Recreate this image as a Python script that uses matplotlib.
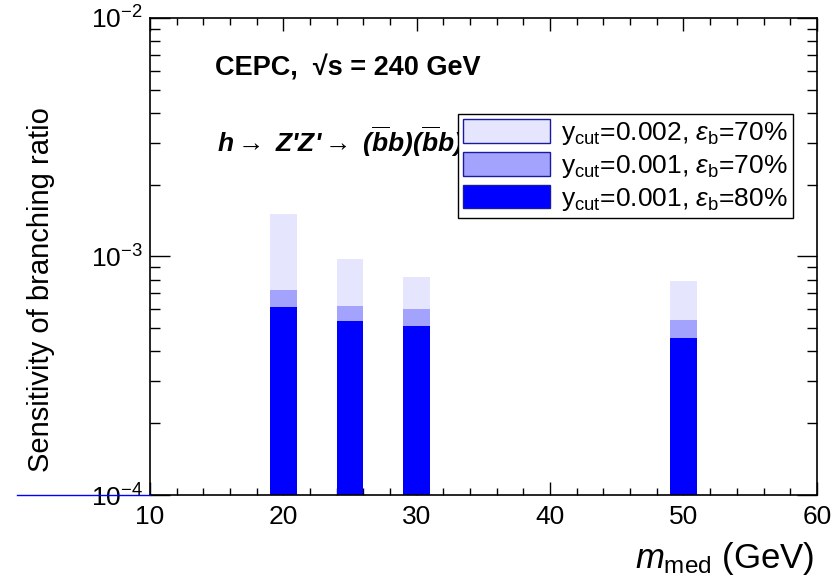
import matplotlib
matplotlib.use("Agg")
import matplotlib.pyplot as plt
from matplotlib.patches import Patch
from matplotlib.ticker import MultipleLocator, LogLocator, NullFormatter

plt.rcParams["font.family"] = ["Liberation Sans", "DejaVu Sans"]
plt.rcParams["mathtext.fontset"] = "custom"
plt.rcParams["mathtext.rm"] = "Liberation Sans"
plt.rcParams["mathtext.it"] = "Liberation Sans:italic"
plt.rcParams["mathtext.bf"] = "Liberation Sans:bold:italic"

# mediator masses (GeV) and sensitivities for the three selections
m_med = [20, 25, 30, 50]
br_y002_e70 = [1.51e-3, 9.76e-4, 8.2e-4, 7.89e-4]
br_y001_e70 = [7.24e-4, 6.2e-4, 6.03e-4, 5.42e-4]
br_y001_e80 = [6.14e-4, 5.37e-4, 5.11e-4, 4.55e-4]
labels = [r"y$_{\rm cut}$=0.002, $\varepsilon_{\rm b}$=70%",
          r"y$_{\rm cut}$=0.001, $\varepsilon_{\rm b}$=70%",
          r"y$_{\rm cut}$=0.001, $\varepsilon_{\rm b}$=80%"]
colors = ["#e5e5fd", "#a3a3fd", "#0000ff"]

ymin, ymax = 1e-4, 1e-2

fig = plt.figure(figsize=(8.31, 5.85), dpi=100)
ax = fig.add_axes([0.1805, 0.1538, 0.8025, 0.8155])

for vals, c in zip([br_y002_e70, br_y001_e70, br_y001_e80], colors):
    ax.bar(m_med, [v - ymin for v in vals], width=2, bottom=ymin, color=c,
           edgecolor="none", zorder=2)

ax.set_yscale("log")
ax.set_xlim(10, 60)
ax.set_ylim(ymin, ymax)

# stray baseline that leaks left of the frame in the original
ax.plot([-0.2, 0], [ymin, ymin], color="#0000ff", lw=1, clip_on=False,
        transform=ax.get_yaxis_transform(), zorder=5)

ax.xaxis.set_major_locator(MultipleLocator(10))
ax.xaxis.set_minor_locator(MultipleLocator(2))
ax.yaxis.set_major_locator(LogLocator(base=10, numticks=5))
ax.yaxis.set_minor_locator(LogLocator(base=10, subs=range(2, 10), numticks=20))
ax.yaxis.set_minor_formatter(NullFormatter())
ax.tick_params(which="both", direction="in", top=True, right=True, labelsize=19,
               width=1)
ax.tick_params(axis="x", which="major", length=9.4, pad=7)
ax.tick_params(axis="x", which="minor", length=5)
ax.tick_params(axis="y", which="major", length=14.4, pad=5)
ax.tick_params(axis="y", which="minor", length=7.2)
for s in ax.spines.values():
    s.set_linewidth(1.2)

ax.set_ylabel("Sensitivity of branching ratio", fontsize=21)
ax.yaxis.set_label_coords(-0.142, 0.43)
ax.set_xlabel(r"$m_{\rm med}$ (GeV)", fontsize=25, ha="right")
ax.xaxis.set_label_coords(0.997, -0.095)

ax.text(0.097, 0.895, "CEPC,  \u221as = 240 GeV", transform=ax.transAxes,
        fontsize=19.5, fontweight="bold", va="center")
ax.text(0.1, 0.74,
        r"h$\rightarrow$ Z'Z'$\rightarrow$ ($\mathbf{\overline{b}b}$)($\mathbf{\overline{b}b}$)",
        transform=ax.transAxes, fontsize=19, fontweight="bold", fontstyle="italic",
        va="center")

handles = [Patch(facecolor=c, edgecolor="#1a1aa0", lw=1) for c in colors]
leg = ax.legend(handles, labels, loc="upper left", bbox_to_anchor=(0.462, 0.799),
                fontsize=19, frameon=True, fancybox=False, framealpha=1,
                edgecolor="black", borderpad=0.2, labelspacing=0.19,
                handlelength=3.3, handleheight=1.0, handletextpad=0.4,
                borderaxespad=0)
leg.get_frame().set_linewidth(1)
leg.set_zorder(6)

fig.savefig("out.png", dpi=100)
